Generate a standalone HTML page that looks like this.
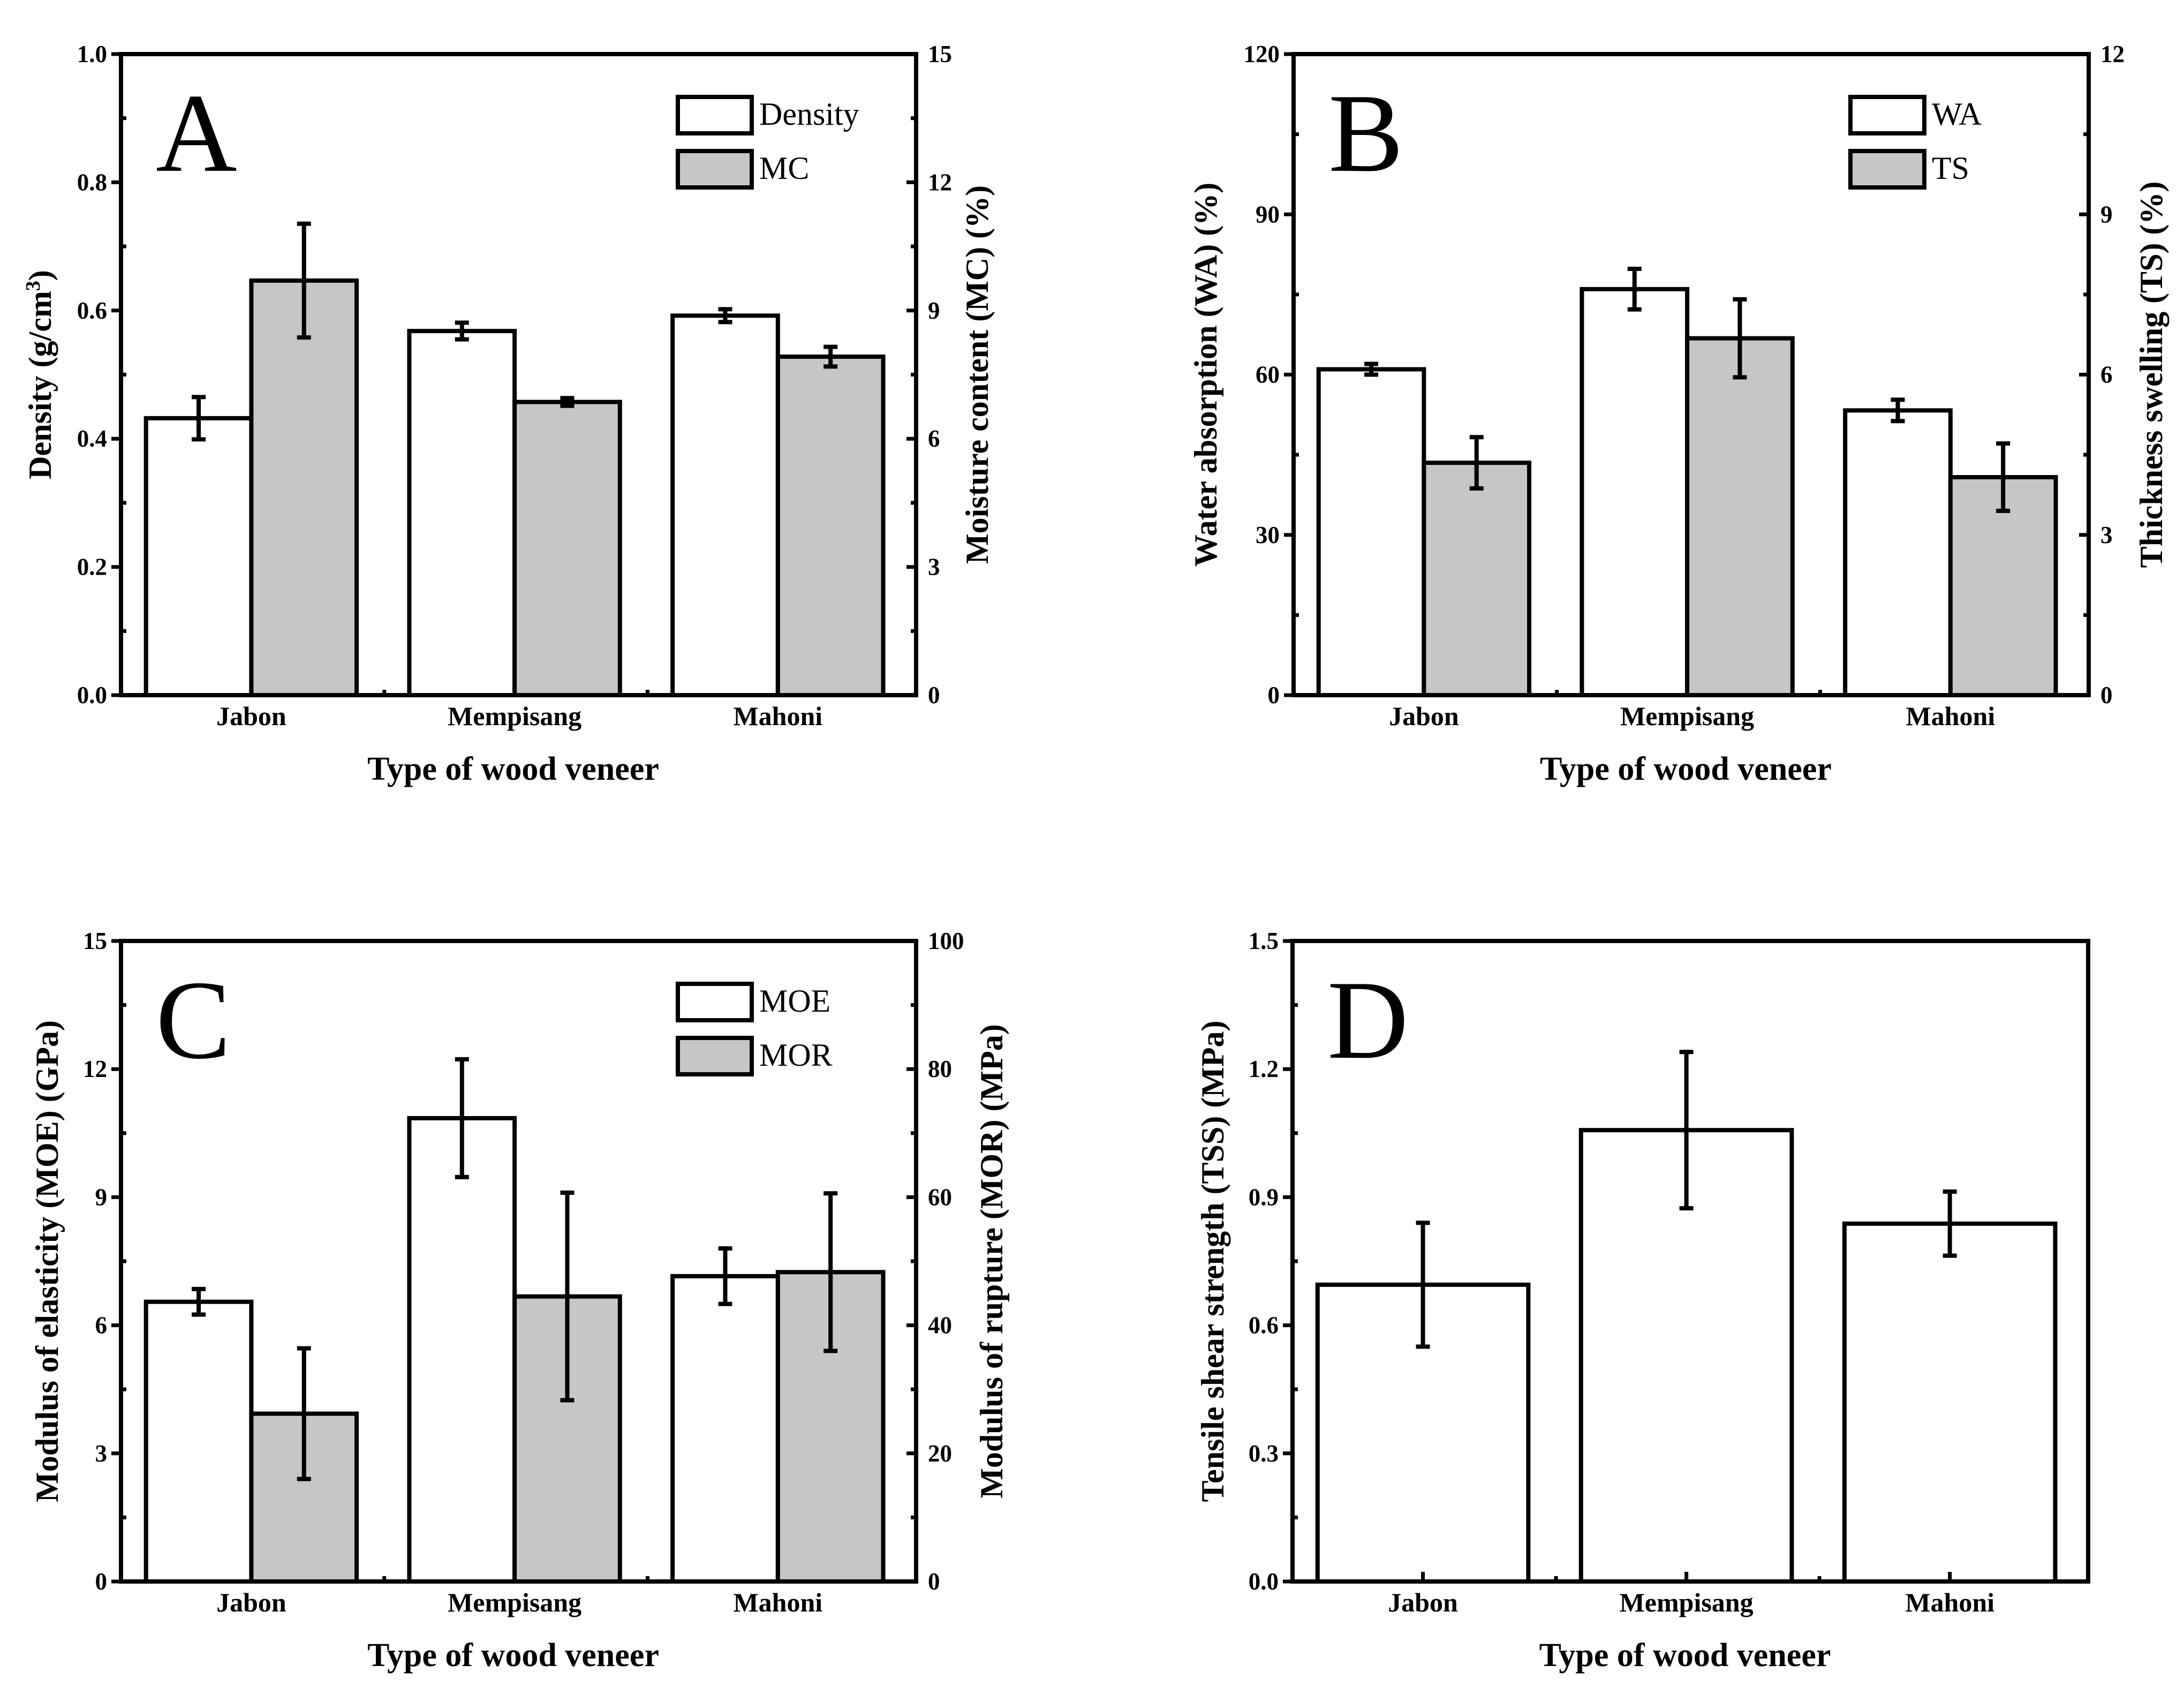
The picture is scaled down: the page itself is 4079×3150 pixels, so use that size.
<!DOCTYPE html>
<html><head><meta charset="utf-8">
<style>
html,body{margin:0;padding:0;background:#fff;}
svg{display:block;font-family:"Liberation Serif","Times New Roman",serif;}
</style></head>
<body>
<svg id="fig" width="4079" height="3150" viewBox="0 0 4079 3150" xmlns="http://www.w3.org/2000/svg"></svg>
<script>
const categories = ["Jabon", "Mempisang", "Mahoni"];
// Panel A
const densityValues = [0.432, 0.568, 0.592];
const densityErrors = [0.033, 0.013, 0.010];
const mcValues = [9.70, 6.86, 7.92];
const mcErrors = [1.33, 0.09, 0.23];
// Panel B
const waValues = [61.0, 76.0, 53.3];
const waErrors = [1.0, 3.8, 2.0];
const tsValues = [4.35, 6.68, 4.08];
const tsErrors = [0.48, 0.73, 0.63];
// Panel C
const moeValues = [6.55, 10.85, 7.15];
const moeErrors = [0.30, 1.38, 0.65];
const morValues = [26.2, 44.5, 48.3];
const morErrors = [10.2, 16.2, 12.3];
// Panel D
const tssValues = [0.695, 1.057, 0.838];
const tssErrors = [0.145, 0.183, 0.075];
// Tick labels
const ticksA_L = ["0.0","0.2","0.4","0.6","0.8","1.0"];
const ticksA_R = ["0","3","6","9","12","15"];
const ticksB_L = ["0","30","60","90","120"];
const ticksB_R = ["0","3","6","9","12"];
const ticksC_L = ["0","3","6","9","12","15"];
const ticksC_R = ["0","20","40","60","80","100"];
const ticksD_L = ["0.0","0.3","0.6","0.9","1.2","1.5"];

const NS = "http://www.w3.org/2000/svg";
const svg = document.getElementById("fig");
function mk(tag, attrs, parent, text) {
  const e = document.createElementNS(NS, tag);
  for (const k in attrs) e.setAttribute(k, attrs[k]);
  if (text !== undefined) e.textContent = text;
  (parent || svg).appendChild(e);
  return e;
}

function panel(cfg) {
  const g = mk("g", {});
  
  
  const L = cfg.x0, R = cfg.x1, T = cfg.y0, B = cfg.y1;
  const xs = c => L + (R - L) * (c + 0.0) / 3.02;
  const yL = v => B - (B - T) * v / cfg.lmax;
  const yR = v => B - (B - T) * v / cfg.rmax;
  const lw = 8;
  const series = cfg.series;
  const bw = series.length === 2 ? 0.4 : 0.8;
  categories.forEach((cat, i) => {
    series.forEach((s, j) => {
      const y = s.axis === "R" ? yR : yL;
      const left = series.length === 2 ? i + 0.095 + j * 0.4 : i + 0.095;
      const x0 = xs(left), x1 = xs(left + bw);
      const r = mk("rect", {x: x0, y: y(s.values[i]), width: x1 - x0, height: B - y(s.values[i]), fill: s.fill, stroke: "#000", "stroke-width": lw}, g);
      
      
      const cx = (x0 + x1) / 2;
      const hi = y(s.values[i] + s.errors[i]), lo = y(s.values[i] - s.errors[i]);
      const eg = mk("g", {stroke: "#000", "stroke-width": lw}, g);
      
      
      mk("line", {x1: cx, x2: cx, y1: hi, y2: lo}, eg);
      mk("line", {x1: cx - 13, x2: cx + 13, y1: hi, y2: hi}, eg);
      mk("line", {x1: cx - 13, x2: cx + 13, y1: lo, y2: lo}, eg);
    });
  });
  const fr = mk("rect", {x: L, y: T, width: R - L, height: B - T, fill: "none", stroke: "#000", "stroke-width": lw}, g);
  
  
  const nL = cfg.lticks.length - 1;
  const yAxG = mk("g", {}, g);
  
  
  for (let k = 0; k <= nL; k++) {
    const v = cfg.lmax * k / nL, y = yL(v);
    mk("line", {x1: L - 18, x2: L, y1: y, y2: y, stroke: "#000", "stroke-width": 7}, yAxG);
    const t = mk("text", {x: L - 26, y: y + 15, "text-anchor": "end", "font-size": 45, "font-weight": "bold"}, yAxG, cfg.lticks[k]);
    
    
    if (k < nL) {
      const ym = yL(v + cfg.lmax / nL / 2);
      mk("line", {x1: L, x2: L + 10, y1: ym, y2: ym, stroke: "#000", "stroke-width": 7}, yAxG);
      if (cfg.right) mk("line", {x1: R, x2: R - 10, y1: ym, y2: ym, stroke: "#000", "stroke-width": 7}, yAxG);
    }
  }
  if (cfg.right) {
    const rAx = mk("g", {}, g);
    
    
    const nR = cfg.rticks.length - 1;
    for (let k = 0; k <= nR; k++) {
      const y = yR(cfg.rmax * k / nR);
      mk("line", {x1: R - 18, x2: R, y1: y, y2: y, stroke: "#000", "stroke-width": 7}, rAx);
      const t = mk("text", {x: R + 22, y: y + 15, "text-anchor": "start", "font-size": 45, "font-weight": "bold"}, rAx, cfg.rticks[k]);
      
      
    }
    const rt = mk("text", {transform: `translate(${cfg.rtx},${(T + B) / 2}) rotate(-90)`, "text-anchor": "middle", "font-size": 60, "font-weight": "bold"}, g, cfg.rtitle);
    
    
  }
  categories.forEach((cat, i) => {
    const cx = xs(i + 0.495);
    mk("line", {x1: cx, x2: cx, y1: B, y2: B - 18, stroke: "#000", "stroke-width": 7}, g);
    if (i > 0) mk("line", {x1: xs(i), x2: xs(i), y1: B, y2: B - 10, stroke: "#000", "stroke-width": 7}, g);
    const t = mk("text", {x: cx, y: B + 56, "text-anchor": "middle", "font-size": 50, "font-weight": "bold"}, g, cat);
    
    
  });
  const xt = mk("text", {x: (L + R) / 2 - 10, y: B + 158, "text-anchor": "middle", "font-size": 62, "font-weight": "bold"}, g, "Type of wood veneer");
  
  
  const lt = mk("text", {transform: `translate(${cfg.ltx},${(T + B) / 2}) rotate(-90)`, "text-anchor": "middle", "font-size": 60, "font-weight": "bold"}, g);
  
  
  if (cfg.ltitleSup) {
    mk("tspan", {}, lt, cfg.ltitle[0]);
    mk("tspan", {"baseline-shift": "super", "font-size": 38}, lt, cfg.ltitleSup);
    mk("tspan", {}, lt, cfg.ltitle[1]);
  } else lt.textContent = cfg.ltitle;
  const pl = mk("text", {x: L + 65, y: T + 218, "font-size": 210}, g, cfg.letter);
  
  
  if (series.length === 2) {
    const lg = mk("g", {}, g);
    
    
    series.forEach((s, j) => {
      const by = T + 80 + j * 101;
      const bx = L + 1040;
      mk("rect", {x: bx, y: by, width: 138, height: 68, fill: s.fill, stroke: "#000", "stroke-width": 8}, lg);
      const t = mk("text", {x: bx + 152, y: by + 52, "font-size": 60}, lg, s.label);
      
      
    });
  }
}

const GRAY = "#c6c6c6";
panel({name: "panel-a-density-mc", letter: "A", x0: 226, x1: 1711, y0: 101, y1: 1298, lmax: 1.0, rmax: 15,
  lticks: ticksA_L, rticks: ticksA_R, right: true, ltx: 95, rtx: 1845,
  ltitle: ["Density (g/cm", ")"], ltitleSup: "3", rtitle: "Moisture content (MC) (%)",
  series: [{key: "density", label: "Density", values: densityValues, errors: densityErrors, fill: "#fff", axis: "L"},
           {key: "mc", label: "MC", values: mcValues, errors: mcErrors, fill: GRAY, axis: "R"}]});
panel({name: "panel-b-wa-ts", letter: "B", x0: 2416, x1: 3901, y0: 101, y1: 1298, lmax: 120, rmax: 12,
  lticks: ticksB_L, rticks: ticksB_R, right: true, ltx: 2272, rtx: 4038,
  ltitle: "Water absorption (WA) (%)", rtitle: "Thickness swelling (TS) (%)",
  series: [{key: "wa", label: "WA", values: waValues, errors: waErrors, fill: "#fff", axis: "L"},
           {key: "ts", label: "TS", values: tsValues, errors: tsErrors, fill: GRAY, axis: "R"}]});
panel({name: "panel-c-moe-mor", letter: "C", x0: 226, x1: 1711, y0: 1757, y1: 2953, lmax: 15, rmax: 100,
  lticks: ticksC_L, rticks: ticksC_R, right: true, ltx: 108, rtx: 1872,
  ltitle: "Modulus of elasticity (MOE) (GPa)", rtitle: "Modulus of rupture (MOR) (MPa)",
  series: [{key: "moe", label: "MOE", values: moeValues, errors: moeErrors, fill: "#fff", axis: "L"},
           {key: "mor", label: "MOR", values: morValues, errors: morErrors, fill: GRAY, axis: "R"}]});
panel({name: "panel-d-tss", letter: "D", x0: 2414, x1: 3900, y0: 1757, y1: 2953, lmax: 1.5, rmax: 1.5,
  lticks: ticksD_L, right: false, ltx: 2285,
  ltitle: "Tensile shear strength (TSS) (MPa)",
  series: [{key: "tss", label: "TSS", values: tssValues, errors: tssErrors, fill: "#fff", axis: "L"}]});
</script>
</body></html>
